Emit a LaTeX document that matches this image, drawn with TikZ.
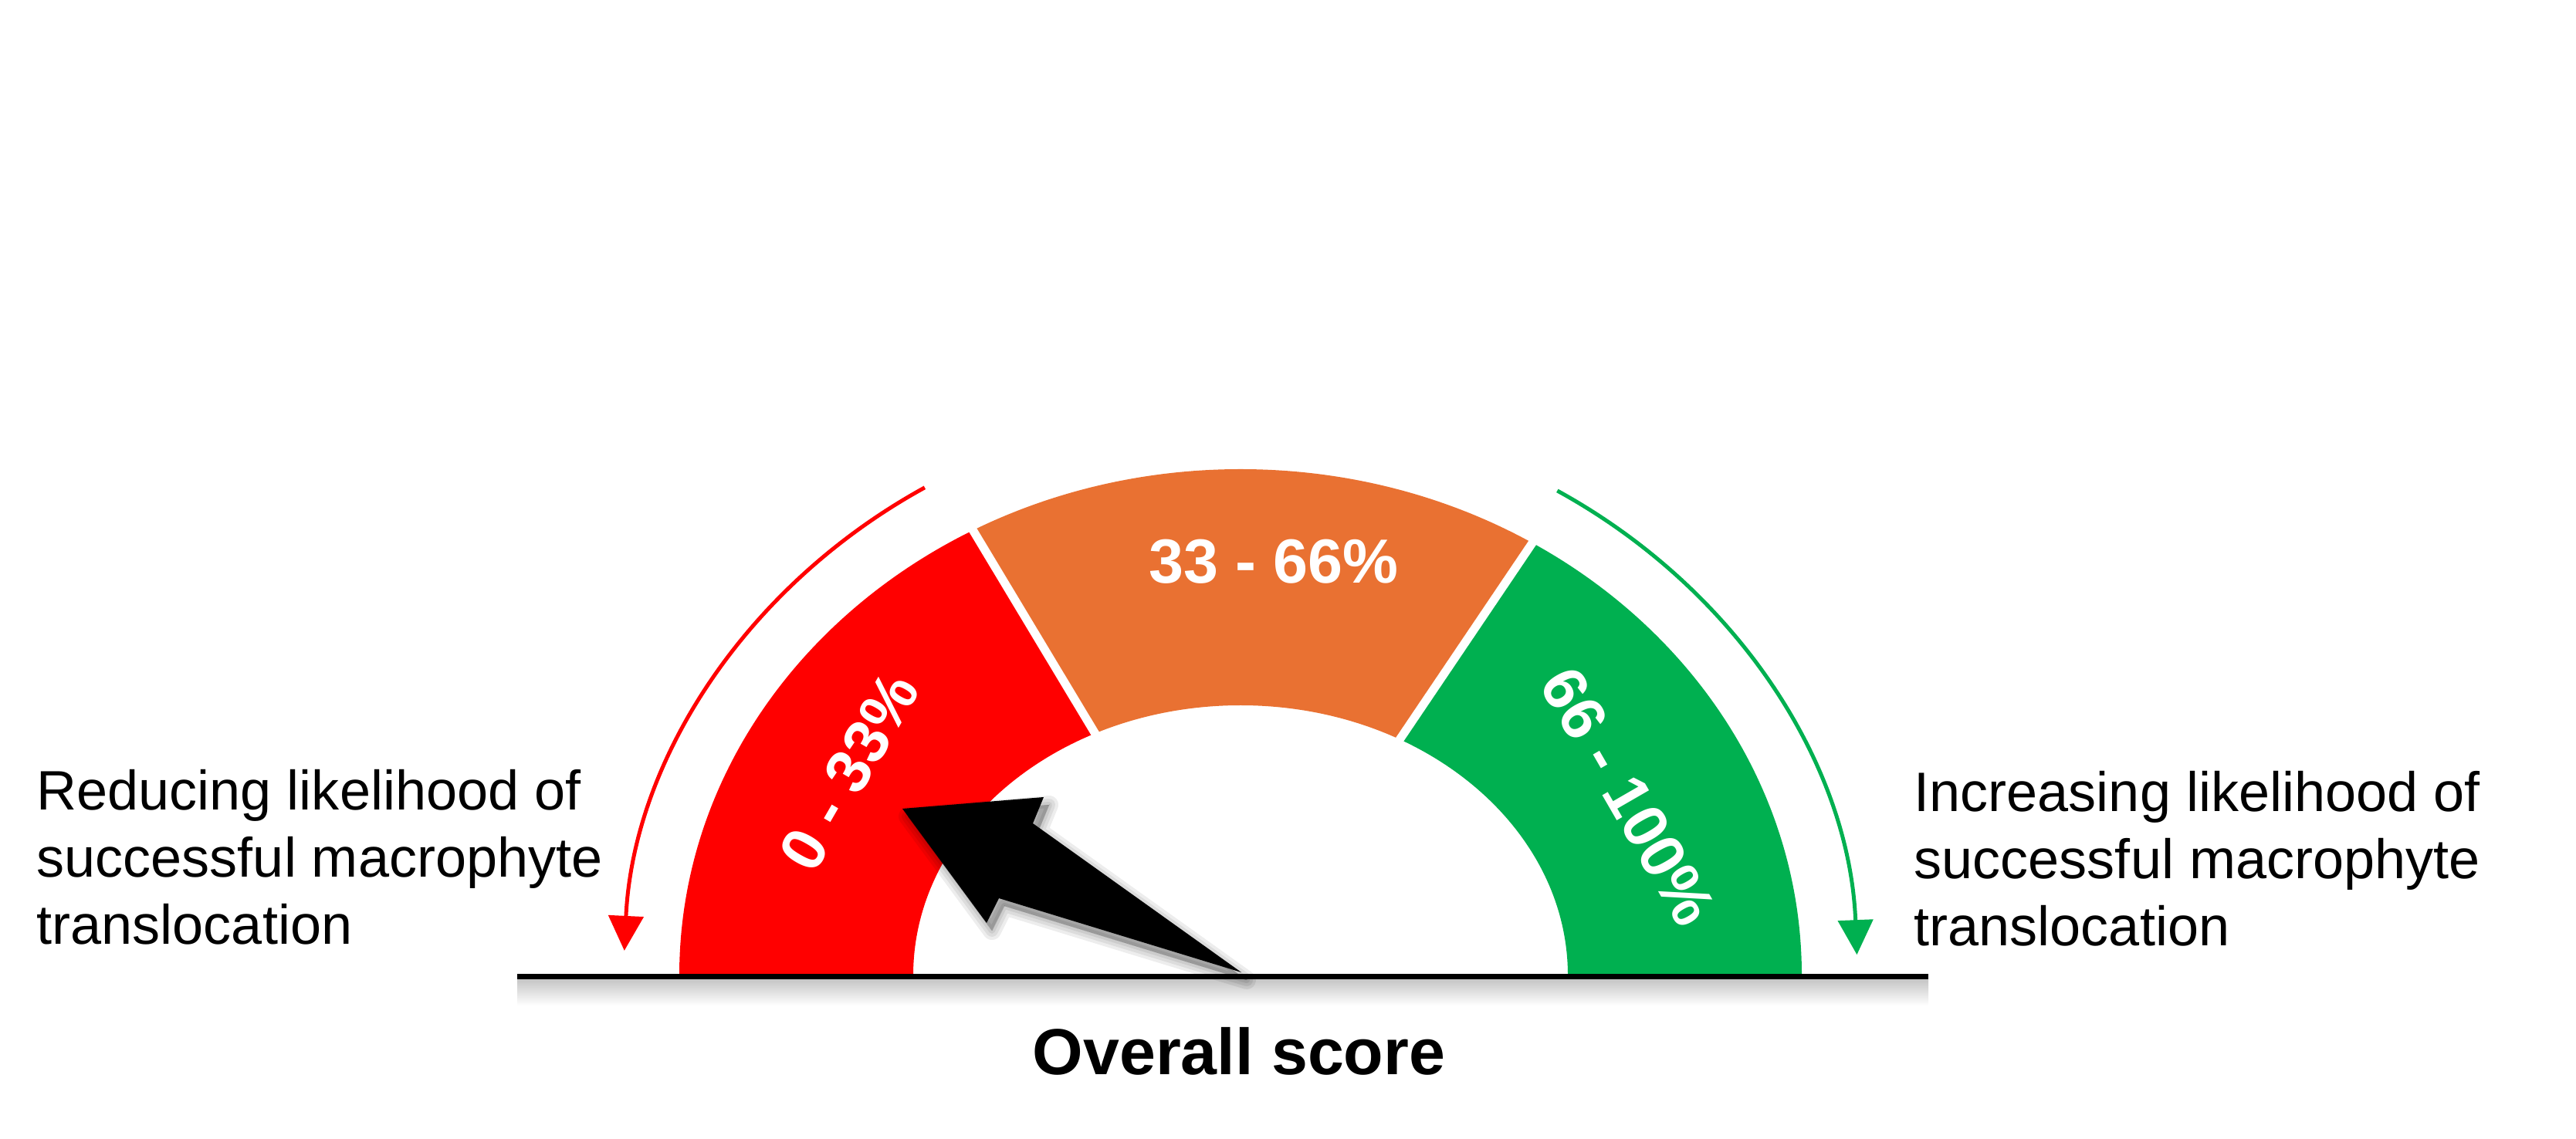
\documentclass[tikz,border=0pt]{standalone}
\usepackage{fontspec}
\setmainfont{Liberation Sans}
\usetikzlibrary{positioning,arrows.meta,calc}
\definecolor{lowred}{HTML}{FF0000}
\definecolor{midorange}{HTML}{E97132}
\definecolor{highgreen}{HTML}{00B050}
\tikzstyle{band}=[even odd rule]
\tikzstyle{bandlabel}=[text=white,inner sep=0,font=\bfseries\fontsize{23}{27}\selectfont]
\tikzstyle{sidetext}=[align=left,inner sep=0,anchor=west,font=\fontsize{20.5}{24.7}\selectfont]
\tikzstyle{trend}=[line width=0.05cm,-{Triangle[width=0.45cm,length=0.45cm]}]
\tikzstyle{gapline}=[white,line width=0.11cm]
\newcommand{\outerband}{(c) ellipse[x radius=7.27,y radius=6.56]}
\newcommand{\innerband}{(c) ellipse[x radius=4.24,y radius=3.50]}

\begin{document}
\begin{tikzpicture}
  \useasboundingbox (0,0) rectangle (33.37,14.75);

  \coordinate(c) at (16.07,2.11);
  \coordinate(leftend) at (6.70,2.09);
  \coordinate(rightend) at (24.98,2.09);

  % the three bands
  \begin{scope}
    \clip (c) -- +(180:9) -- +(121:9) -- cycle;
    \fill[lowred,band] \outerband \innerband;
  \end{scope}
  \begin{scope}
    \clip (c) -- +(121:9) -- +(56:9) -- cycle;
    \fill[midorange,band] \outerband \innerband;
  \end{scope}
  \begin{scope}
    \clip (c) -- +(56:9) -- +(0:9) -- cycle;
    \fill[highgreen,band] \outerband \innerband;
  \end{scope}
  \draw[gapline] (c) -- +(121:7.0);
  \draw[gapline] (c) -- +(56:7.0);

  \node(lowlabel)[bandlabel,rotate=60] at (11.00,4.75) {0 - 33\%};
  \node(midlabel)[bandlabel] at (16.50,7.47) {33 - 66\%};
  \node(highlabel)[bandlabel,rotate=-60] at (21.09,4.43) {66 - 100\%};

  % shadow under the base line
  \shade[top color=black!22,bottom color=white] (6.70,2.05) rectangle (24.98,1.72);
  \draw[line width=0.07cm] (leftend) -- (rightend);

  % needle with soft shadow
  \foreach \w in {0.24,0.16,0.08,0.0}
    \filldraw[black,opacity=0.07,line width=\w cm,line join=round,shift={(0.07,-0.10)}]
      (11.69,4.27) -- (13.52,4.42) -- (13.38,4.08) -- (16.08,2.15)
      -- (12.94,3.11) -- (12.78,2.79) -- cycle;
  \fill[black] (11.69,4.27) -- (13.52,4.42) -- (13.38,4.08) -- (16.08,2.15)
    -- (12.94,3.11) -- (12.78,2.79) -- cycle;

  % trend arrows
  \coordinate(redstart) at ($(c)+(120.8:7.99 and 7.36)$);
  \coordinate(greenstart) at ($(c)+(59.1:7.99 and 7.32)$);
  \draw[trend,lowred] (redstart) arc[start angle=120.8,end angle=177.5,x radius=7.99,y radius=7.36];
  \draw[trend,highgreen] (greenstart) arc[start angle=59.1,end angle=2.1,x radius=7.99,y radius=7.32];

  \node(reducing)[sidetext] at (0.47,3.64) {Reducing likelihood of\\successful macrophyte\\translocation};
  \node(increasing)[sidetext] at (24.79,3.62) {Increasing likelihood of\\successful macrophyte\\translocation};
  \node(score)[font=\bfseries\fontsize{24}{28}\selectfont] at (16.05,1.13) {Overall score};
\end{tikzpicture}
\end{document}
